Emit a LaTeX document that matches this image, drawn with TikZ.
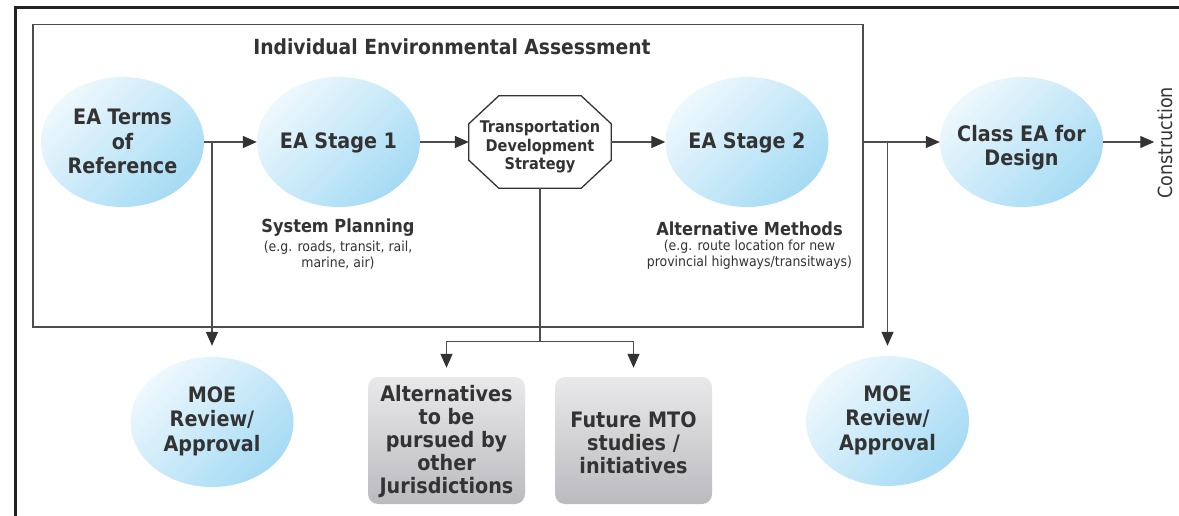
\documentclass[tikz,border=0pt]{standalone}
\usepackage{fontspec}
\setmainfont{DejaVu Sans Condensed}
\usetikzlibrary{arrows.meta,calc,shapes.geometric}

\definecolor{ink}{HTML}{333333}
\definecolor{wire}{HTML}{4D4D4D}
\definecolor{frame}{HTML}{222222}
\definecolor{bluelight}{HTML}{EEF8FD}
\definecolor{bluedark}{HTML}{A5DBF4}
\definecolor{greylight}{HTML}{E9E9EB}
\definecolor{greydark}{HTML}{BBBBBF}

\newcommand{\fsz}[2]{\fontsize{#1}{#2}\selectfont}

\begin{document}
\begin{tikzpicture}[x=1pt,y=-1pt,
  stage/.style={ellipse, minimum width=163pt, minimum height=130pt, inner sep=0pt,
    top color=bluelight, bottom color=bluedark, shading angle=45, draw=none},
  bigtext/.style={font=\bfseries\fsz{21.3}{24.5}, text=ink, align=center, inner sep=0pt},
  greybox/.style={rectangle, rounded corners=10pt, minimum width=157pt, minimum height=127pt,
    inner sep=0pt, top color=greylight, bottom color=greydark, draw=none},
  boxtext/.style={font=\bfseries\fsz{21.3}{23.2}, text=ink, align=center, inner sep=0pt},
  octtext/.style={font=\bfseries\fsz{16.1}{18.5}, text=ink, align=center, inner sep=0pt},
  subhead/.style={font=\bfseries\fsz{18}{20}, text=ink, inner sep=0pt},
  note/.style={font=\fsz{13.9}{15.5}, text=ink, align=center, inner sep=0pt},
  wireline/.style={draw=wire, line width=1.3pt},
  arr/.style={wireline, -{Triangle[length=14pt,width=12pt,color=ink]}},
  octline/.style={draw=ink, line width=1.3pt, fill=white, line join=miter}
]
\useasboundingbox (0,0) rectangle (1179,516);

% outer frame (top and left edges)
\draw[frame, line width=3pt, line join=miter] (15,520) -- (15,7.5) -- (1185,7.5);

% individual EA box and its heading
\node[draw=wire, line width=1.5pt, minimum width=830pt, minimum height=302pt,
      inner sep=0pt, anchor=north west] (iea) at (32,24) {};
\node[font=\bfseries\fsz{20.8}{24}, text=ink, inner sep=0pt] (title) at (452,47)
  {Individual Environmental Assessment};

% main stages
\node[stage] (terms) at (122.5,142) {};
\node[bigtext] (termst) at (122.5,141.5) {EA Terms\\of\\Reference};
\node[stage] (st1) at (338.5,142) {};
\node[bigtext] (st1t) at (338.5,142.5) {EA Stage 1};

% transportation development strategy (octagon)
\node[rectangle, minimum width=142pt, minimum height=92pt, inner sep=0pt] (oct) at (540,142) {};
\draw[octline]
  ($(oct.north west)+(30,0)$) -- ($(oct.north east)+(-30,0)$) --
  ($(oct.north east)+(0,28)$) -- ($(oct.south east)+(0,-28)$) --
  ($(oct.south east)+(-30,0)$) -- ($(oct.south west)+(30,0)$) --
  ($(oct.south west)+(0,-28)$) -- ($(oct.north west)+(0,28)$) -- cycle;
\node[octtext] (octt) at (540,147) {Transportation\\Development\\Strategy};

\node[stage] (st2) at (747,142) {};
\node[bigtext] (st2t) at (747,143) {EA Stage 2};
\node[stage] (cls) at (1021.5,142) {};
\node[bigtext] (clst) at (1021.5,147.5) {Class EA for\\Design};
\node[rotate=90, font=\fsz{19.5}{22}, text=ink, inner sep=3pt] (constr) at (1165,143) {Construction};

% stage notes
\node[subhead] (sysp) at (338,228) {System Planning};
\node[note] (sysn) at (338,255) {(e.g. roads, transit, rail,\\marine, air)};
\node[subhead] (altm) at (749.5,228.5) {Alternative Methods};
\node[note] (altn) at (749.5,254.5) {(e.g. route location for new\\provincial highways/transitways)};

% approvals and outcomes
\node[stage] (moeL) at (212,422) {};
\node[bigtext] (moeLt) at (212,421) {MOE\\Review/\\Approval};
\node[stage] (moeR) at (887.5,421) {};
\node[bigtext] (moeRt) at (887.5,420) {MOE\\Review/\\Approval};
\node[greybox] (alt) at (446.5,440.5) {};
\node[boxtext] (altt) at (446.5,441.5) {Alternatives\\to be\\pursued by\\other\\Jurisdictions};
\node[greybox] (fut) at (633.5,440.5) {};
\node[boxtext] (futt) at (633.5,442.5) {Future MTO\\studies /\\initiatives};

% connectors
\draw[arr] (terms) -- (st1);
\coordinate (jL) at (terms.east -| moeL.north);
\draw[arr, shorten >=11pt] (jL) -- (moeL.north);
\draw[arr] (st1) -- (oct);
\draw[arr] (oct) -- (st2);
\coordinate (jR0) at (st2 -| iea.east);
\draw[arr] (jR0) -- (cls);
\coordinate (jR) at (st2 -| moeR.north);
\draw[arr, shorten >=10pt] (jR) -- (moeR.north);
\draw[arr] (cls) -- (cls -| constr.north);

\coordinate (fork) at ($(oct.south)+(0,153)$);
\draw[wireline] (oct.south) -- (fork);
\draw[arr, shorten >=9pt] (fork) -| (alt.north);
\draw[arr, shorten >=9pt] (fork) -| (fut.north);
\end{tikzpicture}
\end{document}
